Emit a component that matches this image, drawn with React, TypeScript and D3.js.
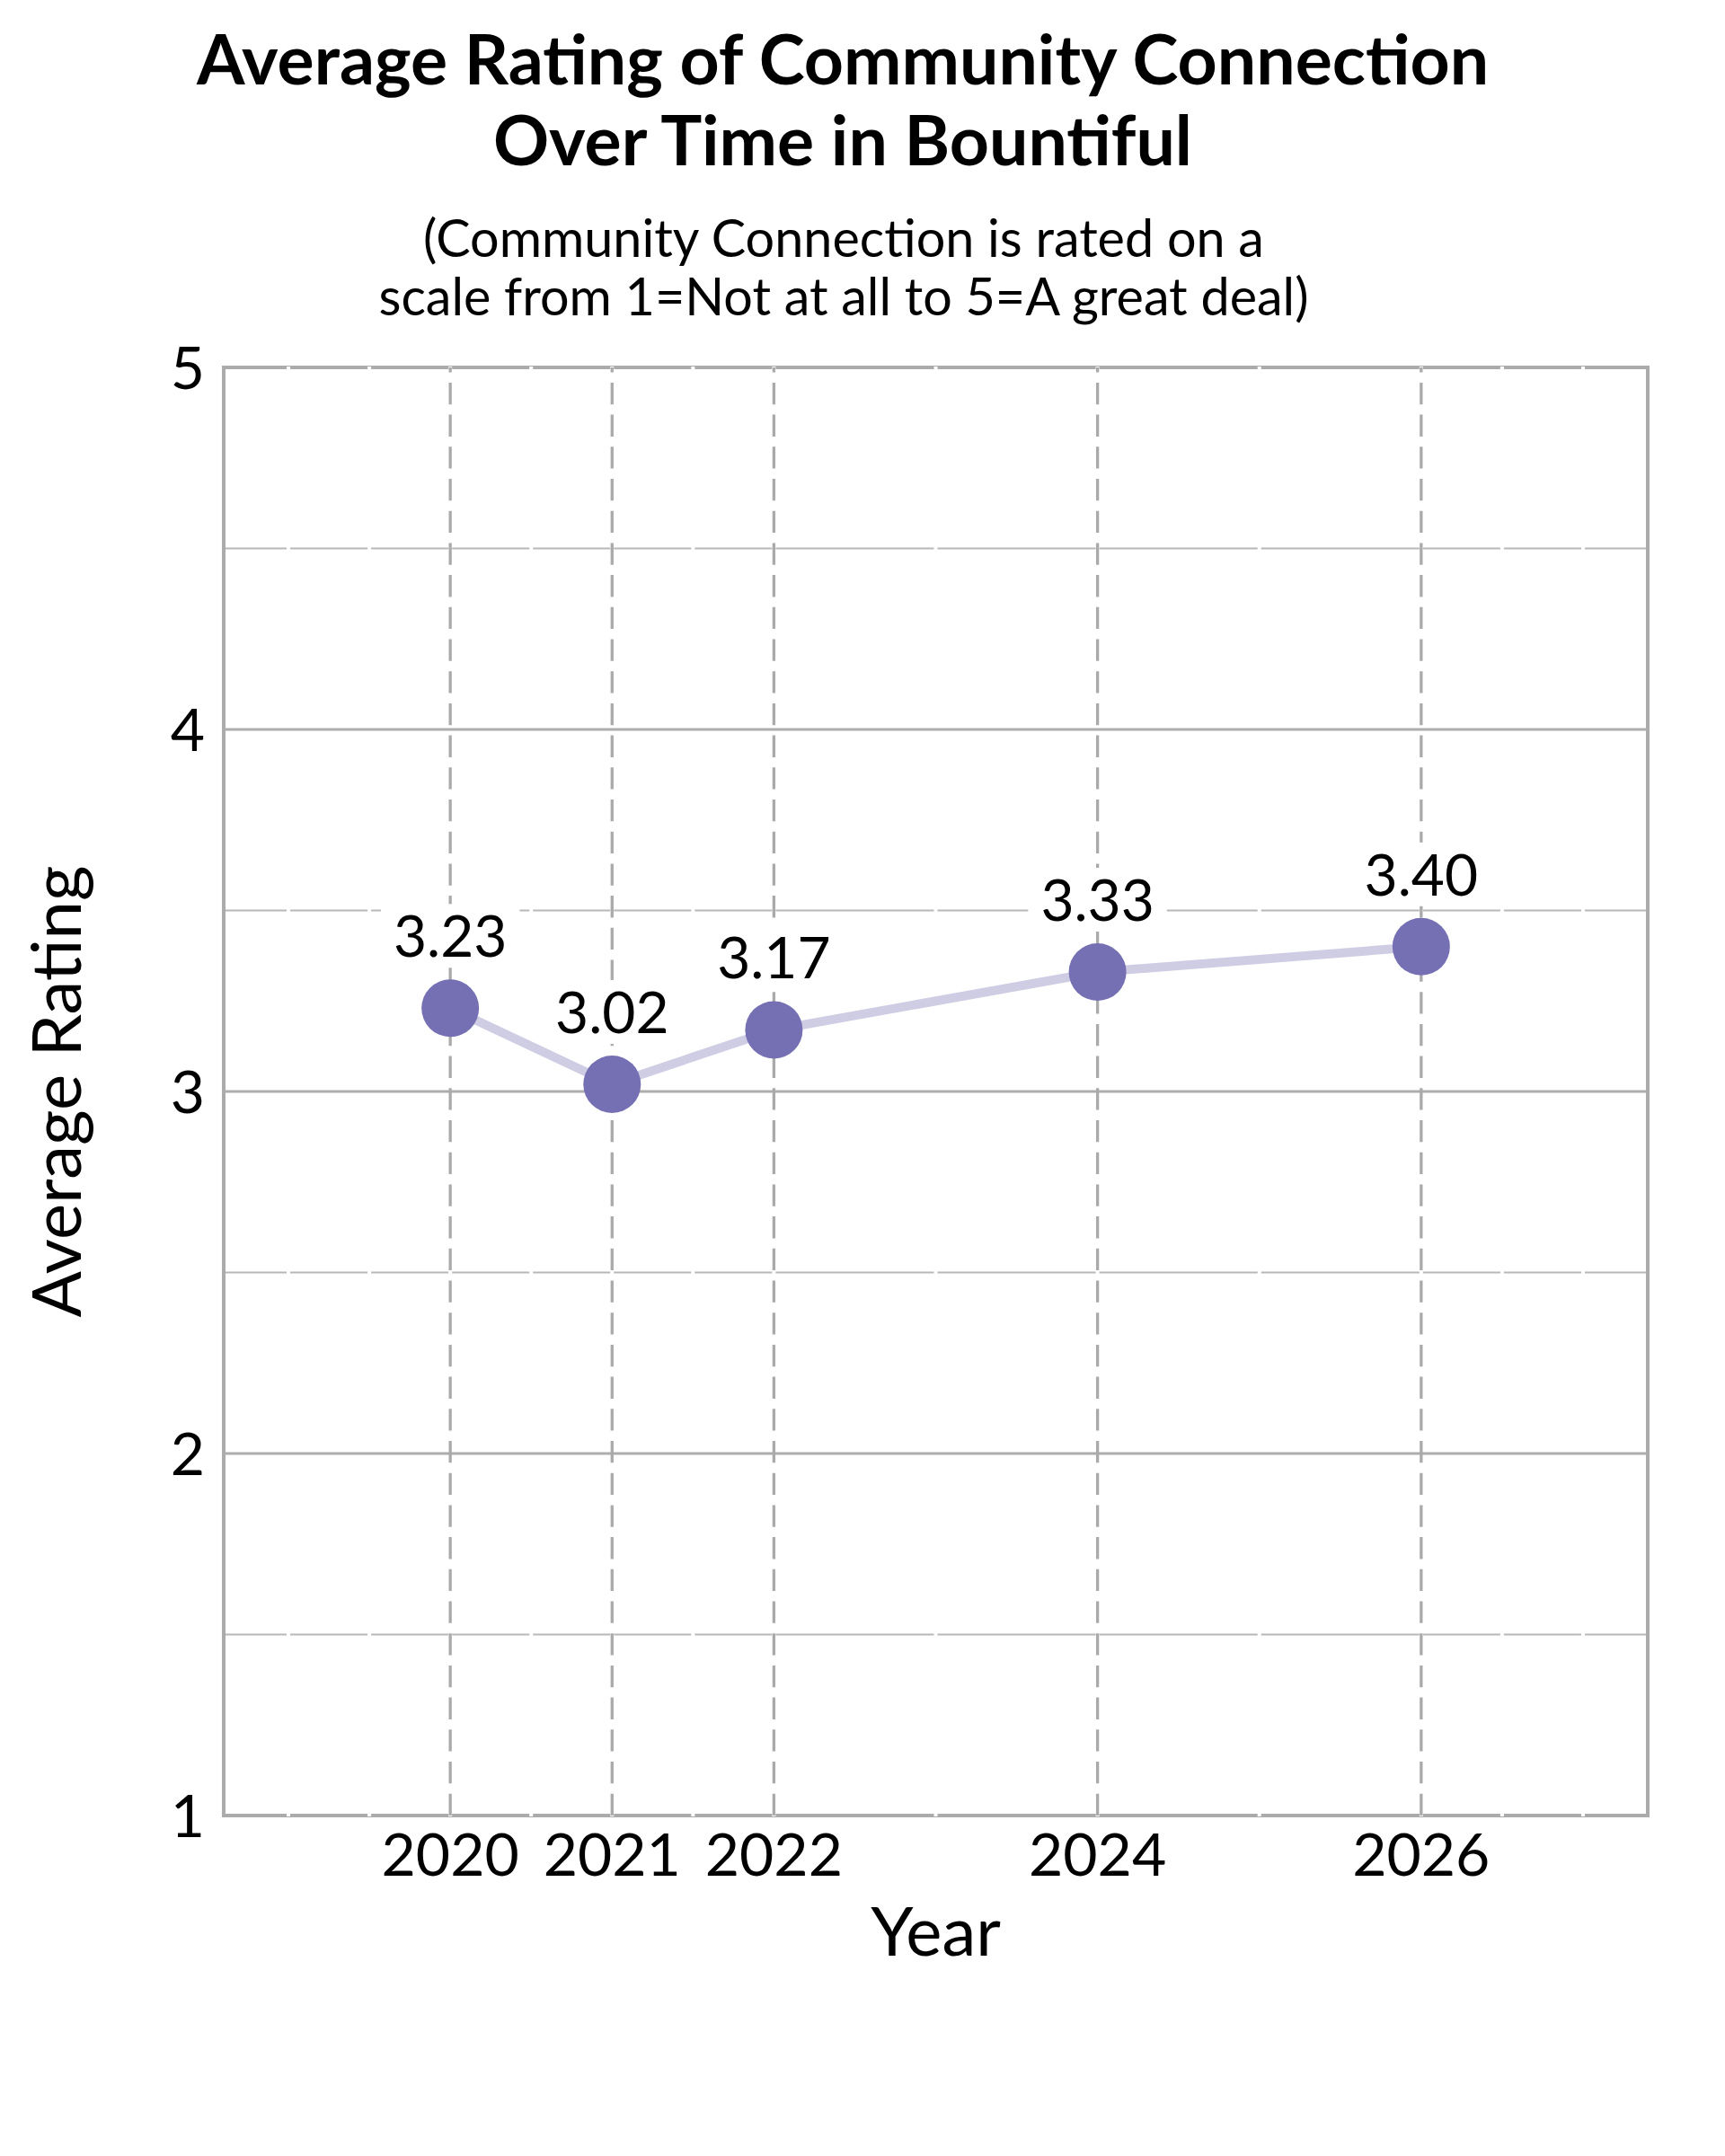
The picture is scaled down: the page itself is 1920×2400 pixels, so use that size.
import * as d3 from 'd3';
import { useEffect, useRef } from 'react';

const years = [2020, 2021, 2022, 2024, 2026];
const ratings = [3.23, 3.02, 3.17, 3.33, 3.4];
const yTicks = [1, 2, 3, 4, 5];
const yMinorTicks = [1.5, 2.5, 3.5, 4.5];
const xMinorTicks = [2019, 2019.5, 2020, 2020.5, 2021, 2021.5, 2022, 2023, 2024, 2025, 2026, 2026.5, 2027];
const titleLines = ['Average Rating of Community Connection', 'Over Time in Bountiful'];
const subtitleLines = ['(Community Connection is rated on a', 'scale from 1=Not at all to 5=A great deal)'];

const W = 1920;
const H = 2400;
const FONT = 'Lato, "Open Sans", sans-serif';

export default function App() {
  const ref = useRef<SVGSVGElement>(null);

  useEffect(() => {
    const svg = d3.select(ref.current);
    svg.selectAll('*').remove();

    const margin = { top: 409, right: W - 1834, bottom: H - 2021, left: 249 };
    const iw = W - margin.left - margin.right;
    const ih = H - margin.top - margin.bottom;

    svg.append('rect').attr('width', W).attr('height', H).attr('fill', 'white');

    const x = d3.scaleLinear().domain([2018.6, 2027.4]).range([0, iw]);
    const y = d3.scaleLinear().domain([1, 5]).range([ih, 0]);

    const g = svg.append('g').attr('transform', `translate(${margin.left},${margin.top})`);

    // minor horizontal grid
    g.selectAll('.minor-y')
      .data(yMinorTicks)
      .enter()
      .append('line')
      .attr('x1', 0)
      .attr('x2', iw)
      .attr('y1', (d) => y(d))
      .attr('y2', (d) => y(d))
      .attr('stroke', '#b8b8b8')
      .attr('stroke-width', 2);

    // frame
    g.append('rect')
      .attr('width', iw)
      .attr('height', ih)
      .attr('fill', 'none')
      .attr('stroke', '#ababab')
      .attr('stroke-width', 4);

    // white minor x ticks cutting the minor grid and frame
    g.selectAll('.minor-x')
      .data(xMinorTicks)
      .enter()
      .append('line')
      .attr('x1', (d) => x(d))
      .attr('x2', (d) => x(d))
      .attr('y1', -1)
      .attr('y2', ih + 1)
      .attr('stroke', 'white')
      .attr('stroke-width', 4);

    // major horizontal grid
    g.selectAll('.major-y')
      .data(yTicks.filter((d) => d > 1 && d < 5))
      .enter()
      .append('line')
      .attr('x1', 0)
      .attr('x2', iw)
      .attr('y1', (d) => y(d))
      .attr('y2', (d) => y(d))
      .attr('stroke', '#adadad')
      .attr('stroke-width', 3);

    // vertical dashed grid at years
    g.selectAll('.grid-x')
      .data(years)
      .enter()
      .append('line')
      .attr('x1', (d) => x(d))
      .attr('x2', (d) => x(d))
      .attr('y1', ih)
      .attr('y2', 0)
      .attr('stroke', '#aaaaaa')
      .attr('stroke-width', 3.3)
      .attr('stroke-dasharray', '24.3,11.4');

    // y tick labels
    g.selectAll('.ytick')
      .data(yTicks)
      .enter()
      .append('text')
      .attr('x', -21)
      .attr('y', (d) => y(d))
      .attr('dy', '0.36em')
      .attr('text-anchor', 'end')
      .style('font-family', FONT)
      .style('font-size', '66px')
      .attr('fill', '#000')
      .text((d) => d);

    // x tick labels
    g.selectAll('.xtick')
      .data(years)
      .enter()
      .append('text')
      .attr('x', (d) => x(d))
      .attr('y', ih + 67)
      .attr('text-anchor', 'middle')
      .style('font-family', FONT)
      .style('font-size', '66px')
      .attr('fill', '#000')
      .text((d) => d);

    const pts = years.map((yr, i) => ({ year: yr, value: ratings[i] }));

    const line = d3
      .line<{ year: number; value: number }>()
      .x((d) => x(d.year))
      .y((d) => y(d.value));

    g.append('path')
      .datum(pts)
      .attr('d', line)
      .attr('fill', 'none')
      .attr('stroke', '#cfcde4')
      .attr('stroke-width', 10);

    g.selectAll('.dot')
      .data(pts)
      .enter()
      .append('circle')
      .attr('cx', (d) => x(d.year))
      .attr('cy', (d) => y(d.value))
      .attr('r', 32)
      .attr('fill', '#7570b3');

    // value labels with white box
    const labels = g
      .selectAll('.lbl')
      .data(pts)
      .enter()
      .append('g');

    const texts = labels
      .append('text')
      .attr('x', (d) => x(d.year))
      .attr('y', (d) => y(d.value) - 57)
      .attr('text-anchor', 'middle')
      .style('font-family', FONT)
      .style('font-size', '64px')
      .attr('fill', '#000')
      .text((d) => d.value.toFixed(2));

    texts.each(function () {
      const b = (this as SVGTextElement).getBBox();
      d3.select((this as SVGTextElement).parentNode as SVGGElement)
        .insert('rect', 'text')
        .attr('x', b.x - 14)
        .attr('y', b.y + 4)
        .attr('width', b.width + 28)
        .attr('height', b.height - 6)
        .attr('fill', 'white');
    });

    // axis titles
    svg
      .append('text')
      .attr('x', margin.left + iw / 2)
      .attr('y', 2177)
      .attr('text-anchor', 'middle')
      .style('font-family', FONT)
      .style('font-size', '76px')
      .text('Year');

    svg
      .append('text')
      .attr('transform', `translate(90, ${margin.top + ih / 2}) rotate(-90)`)
      .attr('text-anchor', 'middle')
      .style('font-family', FONT)
      .style('font-size', '76px')
      .text('Average Rating');

    // title + subtitle
    svg
      .selectAll('.title')
      .data(titleLines)
      .enter()
      .append('text')
      .attr('x', 938)
      .attr('y', (d, i) => 94 + i * 90)
      .attr('text-anchor', 'middle')
      .style('font-family', FONT)
      .style('font-weight', 'bold')
      .style('font-size', '77px')
      .text((d) => d);

    svg
      .selectAll('.subtitle')
      .data(subtitleLines)
      .enter()
      .append('text')
      .attr('x', 939)
      .attr('y', (d, i) => 286 + i * 65)
      .attr('text-anchor', 'middle')
      .style('font-family', FONT)
      .style('font-size', '57.5px')
      .text((d) => d);
  }, []);

  return (
    <svg
      ref={ref}
      width={W}
      height={H}
      style={{ position: 'absolute', left: 0, top: 0, display: 'block' }}
    />
  );
}
